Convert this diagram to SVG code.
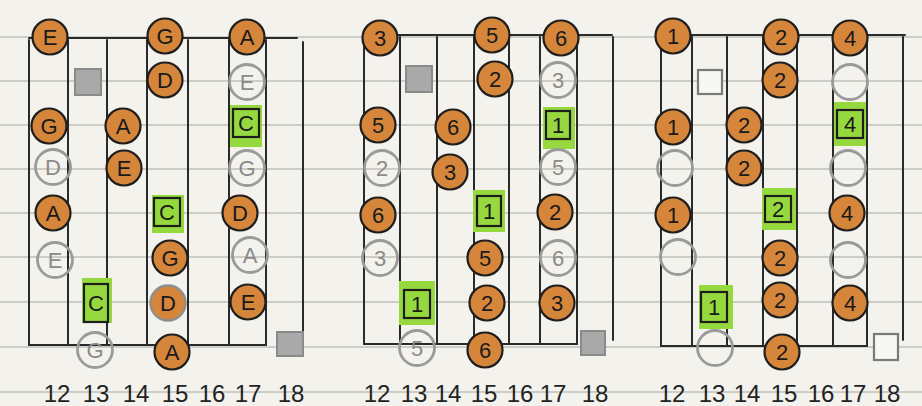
<svg xmlns="http://www.w3.org/2000/svg" width="922" height="406" viewBox="0 0 922 406">
<style>
.paper{fill:#f3f2ec}
.rule{stroke:#a7a7a4;stroke-width:1.2}
.str{stroke:#2a2a2a;stroke-width:2;fill:none;stroke-linecap:round}
.o{fill:#d5863a;stroke:#1e1e1e;stroke-width:2.2}
.og{fill:#d5863a;stroke:#8e8e8e;stroke-width:2.4}
.g{fill:none;stroke:#9a9a9a;stroke-width:2.8}
.hl{fill:#95d93f}
.bx{fill:none;stroke:#1e1e1e;stroke-width:2.2}
.sq{fill:#a9a9a9;stroke:#8a8a8a;stroke-width:2}
.wsq{fill:#f7f7f3;stroke:#7a7a7a;stroke-width:2.2}
text{font-family:"Liberation Sans",Arial,sans-serif;font-size:22px;text-anchor:middle;dominant-baseline:central}
.t{fill:#1a1a1a}
.tg{fill:#8a8a8a}
.lab{font-size:24px;fill:#222;dominant-baseline:alphabetic}
</style>
<defs>
<circle id="c" r="17.5"/>
</defs>
<rect class="paper" x="0" y="0" width="922" height="406"/>
<g id="paper-rules">
<line class="rule" x1="0" y1="37" x2="922" y2="37"/>
<line class="rule" x1="0" y1="81" x2="922" y2="81"/>
<line class="rule" x1="0" y1="125" x2="922" y2="125"/>
<line class="rule" x1="0" y1="169" x2="922" y2="169"/>
<line class="rule" x1="0" y1="213" x2="922" y2="213"/>
<line class="rule" x1="0" y1="257" x2="922" y2="257"/>
<line class="rule" x1="0" y1="302" x2="922" y2="302"/>
<line class="rule" x1="0" y1="347" x2="922" y2="347"/>
<line class="rule" x1="0" y1="392" x2="922" y2="392"/>
</g>
<g id="connectors">
<path class="str" d="M29 38H297M29 345H266"/>
<path class="str" d="M29 40V345M68 40V345M107 40V345M147 40V345M188 40V345M229 40V345M266 40V345M303 42V335"/>
<path class="str" d="M364 35H612M364 344H577"/>
<path class="str" d="M364 37V344M400 37V344M437 37V344M474 37V344M509 37V344M540 37V344M577 37V344M613 37V340"/>
<path class="str" d="M661 35H905M661 346H867"/>
<path class="str" d="M661 37V346M692 37V346M727 37V346M763 37V346M797 37V346M833 37V346M867 37V346M903 37V340"/>
</g>
<!-- Panel 1 -->
<g id="p1-E1"><use href="#c" class="o" x="50" y="37"/><text class="t" x="50" y="37">E</text></g>
<g id="p1-G1"><use href="#c" class="o" x="165" y="36"/><text class="t" x="165" y="36">G</text></g>
<g id="p1-A1"><use href="#c" class="o" x="247" y="37"/><text class="t" x="247" y="37">A</text></g>
<g id="p1-sq1"><rect class="sq" x="75" y="69" width="26" height="26"/></g>
<g id="p1-D1"><use href="#c" class="o" x="165" y="80"/><text class="t" x="165" y="80">D</text></g>
<g id="p1-E2"><use href="#c" class="g" x="247" y="82"/><text class="tg" x="247" y="82">E</text></g>
<g id="p1-G2"><use href="#c" class="o" x="49" y="126"/><text class="t" x="49" y="126">G</text></g>
<g id="p1-A2"><use href="#c" class="o" x="123" y="126"/><text class="t" x="123" y="126">A</text></g>
<g id="p1-C1"><rect class="hl" x="230" y="105" width="32" height="42"/><rect class="bx" x="233" y="109" width="26" height="28"/><text class="t" x="246" y="123">C</text></g>
<g id="p1-D2"><use href="#c" class="g" x="53" y="167"/><text class="tg" x="53" y="167">D</text></g>
<g id="p1-E3"><use href="#c" class="o" x="124" y="168"/><text class="t" x="124" y="168">E</text></g>
<g id="p1-G3"><use href="#c" class="g" x="247" y="168"/><text class="tg" x="247" y="168">G</text></g>
<g id="p1-A3"><use href="#c" class="o" x="53" y="213"/><text class="t" x="53" y="213">A</text></g>
<g id="p1-C2"><rect class="hl" x="152" y="195" width="32" height="38"/><rect class="bx" x="154" y="198" width="26" height="28"/><text class="t" x="167" y="212">C</text></g>
<g id="p1-D3"><use href="#c" class="o" x="240" y="213"/><text class="t" x="240" y="213">D</text></g>
<g id="p1-E4"><use href="#c" class="g" x="55" y="260"/><text class="tg" x="55" y="260">E</text></g>
<g id="p1-G4"><use href="#c" class="o" x="170" y="258"/><text class="t" x="170" y="258">G</text></g>
<g id="p1-A4"><use href="#c" class="g" x="250" y="255"/><text class="tg" x="250" y="255">A</text></g>
<g id="p1-C3"><rect class="hl" x="82" y="278" width="30" height="45"/><rect class="bx" x="84" y="284" width="24" height="38"/><text class="t" x="96" y="303">C</text></g>
<g id="p1-D4"><use href="#c" class="og" x="168" y="303"/><text class="t" x="168" y="303">D</text></g>
<g id="p1-E5"><use href="#c" class="o" x="248" y="302"/><text class="t" x="248" y="302">E</text></g>
<g id="p1-G5"><use href="#c" class="g" x="95" y="350"/><text class="tg" x="95" y="350">G</text></g>
<g id="p1-A5"><use href="#c" class="o" x="172" y="352"/><text class="t" x="172" y="352">A</text></g>
<g id="p1-sq2"><rect class="sq" x="277" y="332" width="26" height="24"/></g>
<g id="p1-labels">
<text class="lab" x="57" y="402">12</text><text class="lab" x="96" y="402">13</text><text class="lab" x="136" y="402">14</text><text class="lab" x="175" y="402">15</text><text class="lab" x="212" y="402">16</text><text class="lab" x="248" y="402">17</text><text class="lab" x="291" y="402">18</text>
</g>
<!-- Panel 2 -->
<g id="p2-3a"><use href="#c" class="o" x="380" y="38"/><text class="t" x="380" y="38">3</text></g>
<g id="p2-5a"><use href="#c" class="o" x="492" y="35"/><text class="t" x="492" y="35">5</text></g>
<g id="p2-6a"><use href="#c" class="o" x="561" y="38"/><text class="t" x="561" y="38">6</text></g>
<g id="p2-sq1"><rect class="sq" x="406" y="66" width="26" height="26"/></g>
<g id="p2-2a"><use href="#c" class="o" x="495" y="79"/><text class="t" x="495" y="79">2</text></g>
<g id="p2-3b"><use href="#c" class="g" x="558" y="80"/><text class="tg" x="558" y="80">3</text></g>
<g id="p2-5b"><use href="#c" class="o" x="378" y="125"/><text class="t" x="378" y="125">5</text></g>
<g id="p2-6b"><use href="#c" class="o" x="453" y="127"/><text class="t" x="453" y="127">6</text></g>
<g id="p2-1a"><rect class="hl" x="543" y="107" width="32" height="42"/><rect class="bx" x="546" y="111" width="24" height="28"/><text class="t" x="558" y="125">1</text></g>
<g id="p2-2b"><use href="#c" class="g" x="382" y="168"/><text class="tg" x="382" y="168">2</text></g>
<g id="p2-3c"><use href="#c" class="o" x="450" y="172"/><text class="t" x="450" y="172">3</text></g>
<g id="p2-5c"><use href="#c" class="g" x="558" y="167"/><text class="tg" x="558" y="167">5</text></g>
<g id="p2-6c"><use href="#c" class="o" x="378" y="215"/><text class="t" x="378" y="215">6</text></g>
<g id="p2-1b"><rect class="hl" x="473" y="190" width="32" height="42"/><rect class="bx" x="477" y="196" width="24" height="30"/><text class="t" x="489" y="211">1</text></g>
<g id="p2-2c"><use href="#c" class="o" x="555" y="212"/><text class="t" x="555" y="212">2</text></g>
<g id="p2-3d"><use href="#c" class="g" x="380" y="258"/><text class="tg" x="380" y="258">3</text></g>
<g id="p2-5d"><use href="#c" class="o" x="485" y="258"/><text class="t" x="485" y="258">5</text></g>
<g id="p2-6d"><use href="#c" class="g" x="558" y="258"/><text class="tg" x="558" y="258">6</text></g>
<g id="p2-1c"><rect class="hl" x="399" y="281" width="36" height="44"/><rect class="bx" x="404" y="290" width="26" height="28"/><text class="t" x="417" y="304">1</text></g>
<g id="p2-2d"><use href="#c" class="o" x="487" y="303"/><text class="t" x="487" y="303">2</text></g>
<g id="p2-3e"><use href="#c" class="o" x="557" y="303"/><text class="t" x="557" y="303">3</text></g>
<g id="p2-5e"><use href="#c" class="g" x="417" y="348"/><text class="tg" x="417" y="348">5</text></g>
<g id="p2-6e"><use href="#c" class="o" x="485" y="350"/><text class="t" x="485" y="350">6</text></g>
<g id="p2-sq2"><rect class="sq" x="581" y="331" width="24" height="24"/></g>
<g id="p2-labels">
<text class="lab" x="377" y="402">12</text><text class="lab" x="414" y="402">13</text><text class="lab" x="448" y="402">14</text><text class="lab" x="484" y="402">15</text><text class="lab" x="520" y="402">16</text><text class="lab" x="553" y="402">17</text><text class="lab" x="595" y="402">18</text>
</g>
<!-- Panel 3 -->
<g id="p3-1a"><use href="#c" class="o" x="673" y="36"/><text class="t" x="673" y="36">1</text></g>
<g id="p3-2a"><use href="#c" class="o" x="781" y="37"/><text class="t" x="781" y="37">2</text></g>
<g id="p3-4a"><use href="#c" class="o" x="850" y="38"/><text class="t" x="850" y="38">4</text></g>
<g id="p3-sq1"><rect class="wsq" x="698" y="70" width="24" height="24"/></g>
<g id="p3-2b"><use href="#c" class="o" x="780" y="80"/><text class="t" x="780" y="80">2</text></g>
<g id="p3-o1"><use href="#c" class="g" x="850" y="82"/></g>
<g id="p3-1b"><use href="#c" class="o" x="673" y="127"/><text class="t" x="673" y="127">1</text></g>
<g id="p3-2c"><use href="#c" class="o" x="744" y="125"/><text class="t" x="744" y="125">2</text></g>
<g id="p3-4b"><rect class="hl" x="834" y="102" width="32" height="44"/><rect class="bx" x="837" y="110" width="26" height="28"/><text class="t" x="850" y="124">4</text></g>
<g id="p3-o2"><use href="#c" class="g" x="675" y="168"/></g>
<g id="p3-2d"><use href="#c" class="o" x="744" y="168"/><text class="t" x="744" y="168">2</text></g>
<g id="p3-o3"><use href="#c" class="g" x="848" y="168"/></g>
<g id="p3-1c"><use href="#c" class="o" x="673" y="215"/><text class="t" x="673" y="215">1</text></g>
<g id="p3-2e"><rect class="hl" x="762" y="188" width="34" height="42"/><rect class="bx" x="765" y="196" width="26" height="26"/><text class="t" x="778" y="209">2</text></g>
<g id="p3-4c"><use href="#c" class="o" x="847" y="213"/><text class="t" x="847" y="213">4</text></g>
<g id="p3-o4"><use href="#c" class="g" x="678" y="257"/></g>
<g id="p3-2f"><use href="#c" class="o" x="780" y="258"/><text class="t" x="780" y="258">2</text></g>
<g id="p3-o5"><use href="#c" class="g" x="848" y="260"/></g>
<g id="p3-1d"><rect class="hl" x="699" y="285" width="34" height="44"/><rect class="bx" x="701" y="292" width="26" height="30"/><text class="t" x="714" y="307">1</text></g>
<g id="p3-2g"><use href="#c" class="o" x="780" y="300"/><text class="t" x="780" y="300">2</text></g>
<g id="p3-4d"><use href="#c" class="o" x="850" y="303"/><text class="t" x="850" y="303">4</text></g>
<g id="p3-o6"><use href="#c" class="g" x="715" y="348"/></g>
<g id="p3-2h"><use href="#c" class="o" x="782" y="352"/><text class="t" x="782" y="352">2</text></g>
<g id="p3-sq2"><rect class="wsq" x="874" y="334" width="24" height="26"/></g>
<g id="p3-labels">
<text class="lab" x="672" y="402">12</text><text class="lab" x="712" y="402">13</text><text class="lab" x="747" y="402">14</text><text class="lab" x="784" y="402">15</text><text class="lab" x="821" y="402">16</text><text class="lab" x="853" y="402">17</text><text class="lab" x="887" y="402">18</text>
</g>
</svg>
